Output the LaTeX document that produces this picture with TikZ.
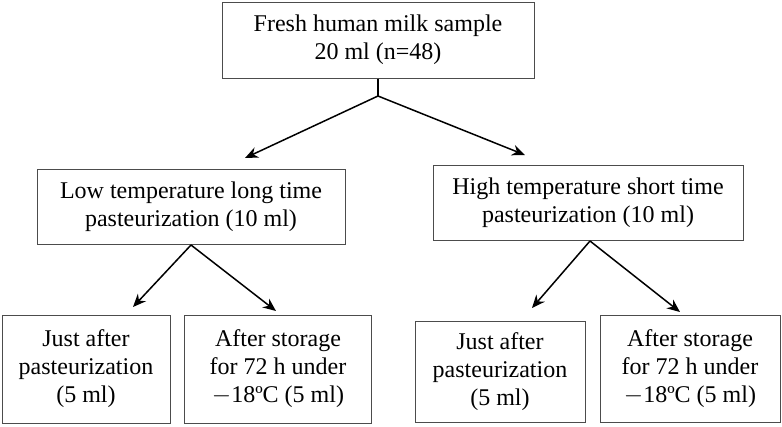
\documentclass[tikz,border=0pt]{standalone}
\usepackage{fontspec}
\setmainfont{Liberation Serif}
\usetikzlibrary{arrows.meta}
\begin{document}
\begin{tikzpicture}[x=1pt,y=-1pt,
  box/.style={draw=black!70,line width=1pt,align=center,font=\fontsize{24}{28}\selectfont,inner sep=0pt},
  arr/.style={-{Stealth[length=13pt,width=11pt]},line width=1.5pt}]
\useasboundingbox (0,0) rectangle (782,426);
\node[box,minimum width=312,minimum height=76] (top) at (378,40) {Fresh human milk sample\\20 ml (n=48)};
\node[box,minimum width=308,minimum height=75] (ml) at (191,207) {Low temperature long time\\pasteurization (10 ml)};
\node[box,minimum width=310,minimum height=75] (mr) at (588,203) {High temperature short time\\pasteurization (10 ml)};
\node[box,minimum width=168,minimum height=108] (b1) at (86,369) {Just after\\pasteurization\\(5 ml)};
\node[box,minimum width=187,minimum height=108] (b2) at (278,369) {After storage\\for 72 h under\\$-$18ºC (5 ml)};
\node[box,minimum width=170,minimum height=101] (b3) at (500,372) {Just after\\pasteurization\\(5 ml)};
\node[box,minimum width=180,minimum height=107] (b4) at (690,369) {After storage\\for 72 h under\\$-$18ºC (5 ml)};
\coordinate (j) at (378,96);
\draw[line width=1.5pt] (top.south) -- (j);
\draw[arr] (j) -- (245,158);
\draw[arr] (j) -- (525,155);
\coordinate (jl) at (191,245);
\draw[arr] (jl) -- (133,307);
\draw[arr] (jl) -- (276,311);
\coordinate (jr) at (590,241);
\draw[arr] (jr) -- (532,308);
\draw[arr] (jr) -- (680,312);
\end{tikzpicture}
\end{document}
